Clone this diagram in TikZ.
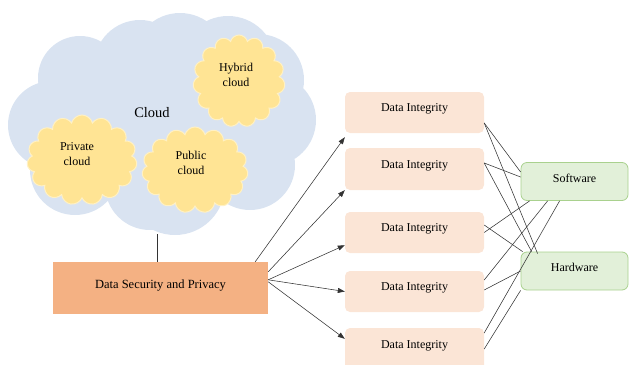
\documentclass[tikz,border=0pt]{standalone}
\usepackage{fontspec}
\setmainfont{Liberation Serif}
\newfontfamily\tnr{Liberation Serif}
\usetikzlibrary{shapes.symbols,arrows.meta}
\definecolor{cloudblue}{HTML}{D9E3F1}
\definecolor{cloudyellow}{HTML}{FFE494}
\definecolor{cloudedge}{HTML}{FFF1C4}
\definecolor{dsporange}{HTML}{F4B183}
\definecolor{dipeach}{HTML}{FBE5D6}
\definecolor{hwgreen}{HTML}{E2F0D9}
\definecolor{hwedge}{HTML}{A9D18E}
\begin{document}
\begin{tikzpicture}[x=1pt,y=-1pt,
  puff/.style={cloud, cloud puffs=15, cloud ignores aspect, fill=cloudyellow, draw=cloudedge, line width=1pt, inner sep=0pt},
  dibox/.style={rectangle, rounded corners=5pt, fill=dipeach, minimum width=139pt, minimum height=41pt, inner sep=0pt, font=\tnr\fontsize{12}{14}\selectfont, text height=9pt, text depth=11pt},
  hwbox/.style={rectangle, rounded corners=6pt, fill=hwgreen, draw=hwedge, line width=0.8pt, minimum width=107pt, minimum height=38pt, inner sep=0pt, font=\tnr\fontsize{12}{14}\selectfont, text height=9pt, text depth=8pt},
  dspbox/.style={rectangle, fill=dsporange, minimum width=215pt, minimum height=52pt, inner sep=0pt, font=\tnr\fontsize{12.5}{15}\selectfont, text height=9pt, text depth=8pt},
  conn/.style={draw=black!80, line width=0.55pt},
  arr/.style={conn, -{Triangle[length=7pt,width=5pt]}},
  lbl/.style={font=\tnr\fontsize{12}{15}\selectfont, align=center, inner sep=0pt}]
\useasboundingbox (0,0) rectangle (631,364);
\clip (0,0) rectangle (631,364);
% big cloud
\fill[cloudblue] (160,120) circle[radius=75]
  (80,78) circle[radius=42]
  (140,66) circle[radius=46]
  (180,60) circle[radius=47]
  (228,64) circle[radius=48]
  (258,80) circle[radius=46]
  (270,120) circle[radius=46]
  (250,165) circle[radius=45]
  (175,185) circle[radius=50]
  (150,185) circle[radius=45]
  (75,170) circle[radius=45]
  (52,125) circle[radius=44];
\node[font=\tnr\fontsize{14.5}{17}\selectfont, inner sep=0pt] (cloudlbl) at (152,113) {Cloud};
\coordinate (cloudbottom) at (157,234);
% small clouds
\node[puff, minimum width=110pt, minimum height=90pt] (priv) at (82,160) {};
\node[lbl] (privtext) at (77,154) {Private\\cloud};
\node[puff, minimum width=106pt, minimum height=86pt] (pub) at (195,170) {};
\node[lbl] (pubtext) at (191,163) {Public\\cloud};
\node[puff, minimum width=92pt, minimum height=92pt] (hyb) at (239,81) {};
\node[lbl] (hybtext) at (236,75) {Hybrid\\cloud};
% boxes
\node[dspbox] (dsp) at (160.5,288) {Data Security and Privacy};
\node[dibox] (d1) at (414.5,112.5) {Data Integrity};
\node[dibox, minimum height=42pt] (d2) at (414.5,169) {Data Integrity};
\node[dibox] (d3) at (414.5,232.5) {Data Integrity};
\node[dibox] (d4) at (414.5,291.5) {Data Integrity};
\node[dibox, minimum height=42pt] (d5) at (414.5,349) {Data Integrity};
\node[hwbox] (sw) at (574.5,181.5) {Software};
\node[hwbox] (hw) at (574.5,271) {Hardware};
% cloud to dsp
\draw[conn] (cloudbottom) -- (cloudbottom |- dsp.north);
% arrows
\draw[arr] ([xshift=-13pt]dsp.north east) -- ([yshift=-4pt]d1.south west);
\draw[arr] ([yshift=-10pt]dsp.north east) -- (d2.south west);
\draw[arr] ([yshift=-18pt]dsp.north east) -- ([yshift=8pt]d3.south west);
\draw[arr] ([yshift=-18pt]dsp.north east) -- (d4.west);
\draw[arr] ([yshift=-20pt]dsp.north east) -- ([yshift=-11pt]d5.north west);
% connections to software / hardware
\draw[conn] ([yshift=-10.5pt]d1.east) -- ([yshift=9.5pt]sw.west);
\draw[conn] ([yshift=-10.5pt]d1.east) -- ([xshift=17pt,yshift=-2pt]hw.north west);
\draw[conn] ([yshift=6pt]d2.east) -- ([yshift=4.5pt]sw.west);
\draw[conn] ([yshift=6pt]d2.east) -- ([xshift=11pt]hw.north west);
\draw[conn] (d3.east) -- ([xshift=9pt]sw.south west);
\draw[conn] ([yshift=7.5pt]d3.east) -- ([xshift=2pt]hw.north west);
\draw[conn] ([yshift=11.5pt]d4.east) -- ([xshift=27pt]sw.south west);
\draw[conn] ([yshift=1.5pt]d4.east) -- (hw.west);
\draw[conn] ([yshift=16pt]d5.east) -- ([xshift=39pt]sw.south west);
\draw[conn] (d5.east) -- (hw.south west);
\end{tikzpicture}
\end{document}
